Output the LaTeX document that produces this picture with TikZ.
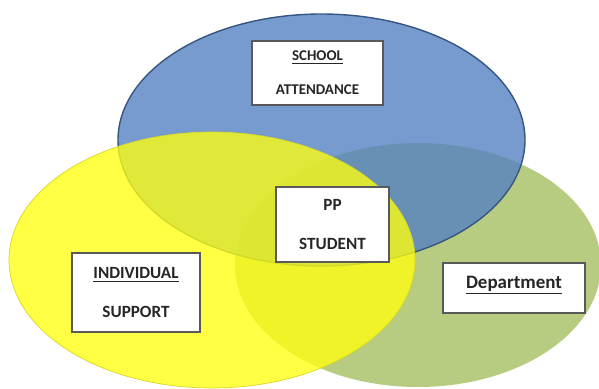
\documentclass[tikz,border=0pt]{standalone}
\usepackage{fontspec}
\setmainfont{Carlito}
\definecolor{attblue}{RGB}{85,130,195}
\definecolor{attline}{RGB}{55,85,130}
\definecolor{deptgreen}{RGB}{183,204,128}
\definecolor{suppyellow}{RGB}{255,255,15}
\definecolor{suppline}{RGB}{215,215,40}
\begin{document}
\begin{tikzpicture}[
  box/.style={draw=black!65, line width=0.8pt, fill=white, align=center, inner sep=0pt,
    font=\fontsize{9.75}{11.7}\selectfont\bfseries, text=black!85}]
\useasboundingbox (0,0) rectangle (11.98,-7.76);
% circles
\fill[deptgreen] (8.36,-5.30) ellipse [x radius=3.66, y radius=2.44];
\draw[attline, line width=0.8pt, fill=attblue, fill opacity=0.8] (6.43,-2.80) ellipse [x radius=4.07, y radius=2.52];
\draw[suppline, line width=0.4pt, fill=suppyellow, fill opacity=0.78] (4.24,-5.20) ellipse [x radius=4.06, y radius=2.56];
% labels
\node[box, minimum width=2.62cm, minimum height=1.28cm, font=\fontsize{8.5}{10.2}\selectfont\bfseries] (school) at (6.35,-1.46) {\underline{SCHOOL}\\[9pt]ATTENDANCE};
\node[box, minimum width=2.26cm, minimum height=1.50cm] (pp) at (6.65,-4.49) {PP\\[11pt]STUDENT};
\node[box, minimum width=2.56cm, minimum height=1.58cm] (indiv) at (2.72,-5.85) {\underline{INDIVIDUAL}\\[10.5pt]SUPPORT};
\node[box, minimum width=2.84cm, minimum height=1.00cm, text height=0.25cm, text depth=0.25cm, font=\fontsize{10.8}{13}\selectfont\bfseries] (dept) at (10.28,-5.76) {\underline{Department}};

\end{tikzpicture}
\end{document}
